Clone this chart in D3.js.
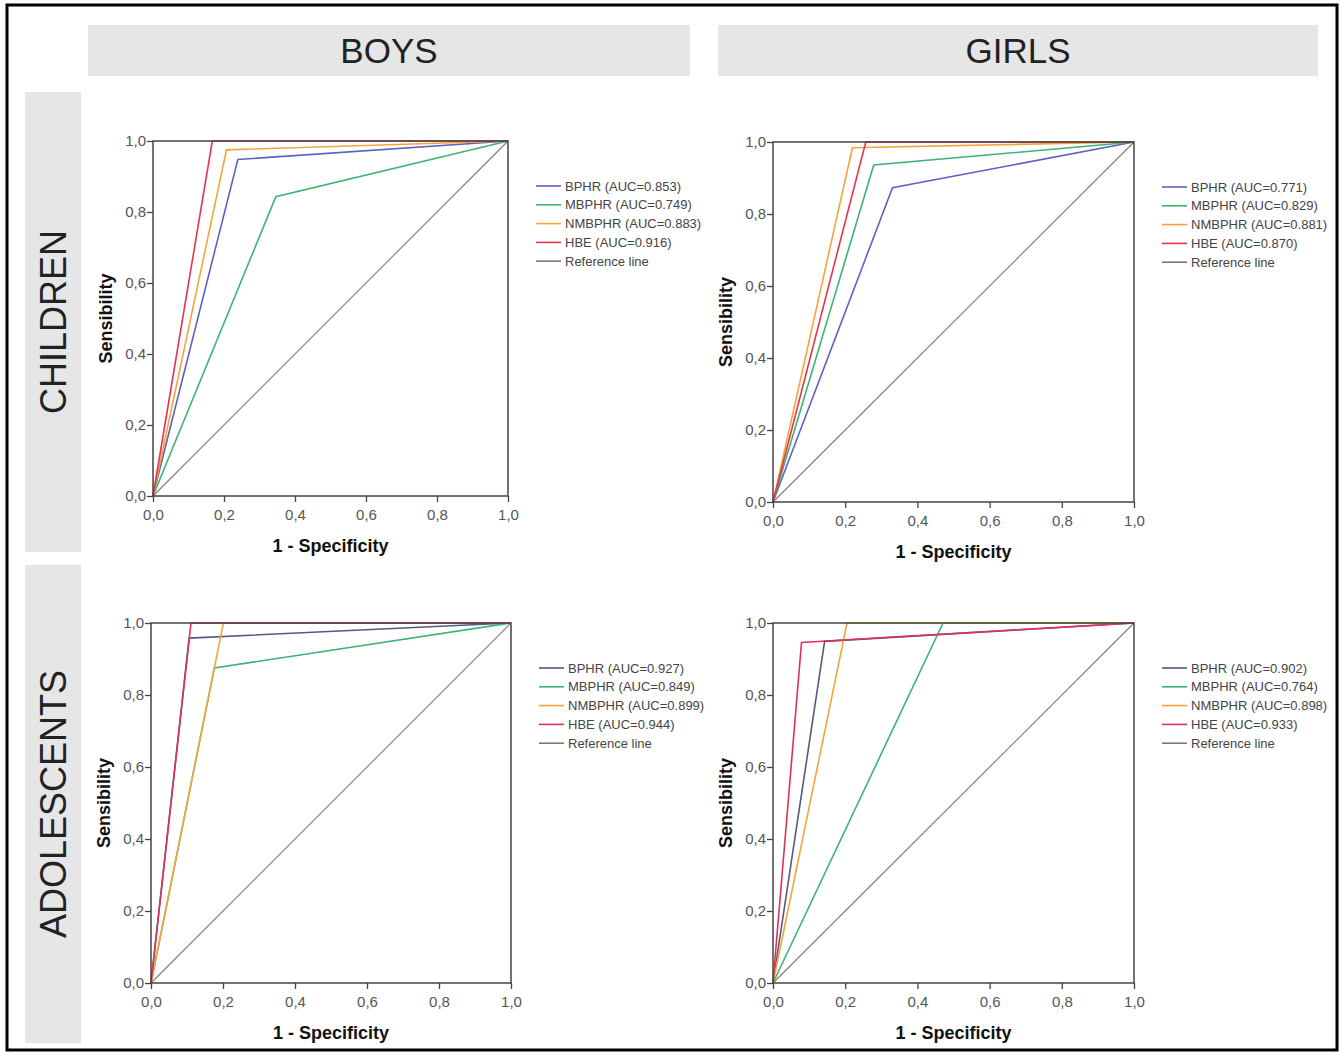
<!DOCTYPE html>
<html>
<head>
<meta charset="utf-8">
<script src="https://cdn.jsdelivr.net/npm/d3@7"></script>
<style>
	body{margin:0;background:#fff;}
	svg{display:block;font-family:"Liberation Sans",Arial,sans-serif;}
</style>
</head>
<body>
<svg id="roc" width="1340" height="1053"></svg>
<script>
// series shown in every panel
let series_names = ['BPHR','MBPHR','NMBPHR','HBE']

// boys / children
let auc_boys_children = [0.853,0.749,0.883,0.916]
let fpr_boys_children = [0.239,0.346,0.207,0.167]
let tpr_boys_children = [0.948,0.843,0.975,1.0]

// girls / children
let auc_girls_children = [0.771,0.829,0.881,0.870]
let fpr_girls_children = [0.331,0.279,0.220,0.257]
let tpr_girls_children = [0.873,0.936,0.984,1.0]

// boys / adolescents
let auc_boys_adol = [0.927,0.849,0.899,0.944]
let fpr_boys_adol = [0.106,0.176,0.201,0.111]
let tpr_boys_adol = [0.958,0.875,1.0,1.0]

// girls / adolescents
let auc_girls_adol = [0.902,0.764,0.898,0.933]
let fpr_girls_adol = [0.143,0.471,0.205,0.079]
let tpr_girls_adol = [0.949,1.0,1.0,0.946]

let tick_vals = [0,0.2,0.4,0.6,0.8,1.0]
let col_titles = ['BOYS','GIRLS']
let row_titles = ['CHILDREN','ADOLESCENTS']

let cols = ['#5b62c2','#3cb472','#f5a43c','#e8334c']
let cols_adol = ['#55587f','#3cb472','#f5a43c','#e0305a']
let ref_col = '#7a7a7a'

const comma = d3.formatLocale({decimal:',',thousands:'.',grouping:[3],currency:['','']}).format('.1f')

const svg = d3.select('#roc')

// outer frame
svg.append('rect')
	.attr('x',7).attr('y',5)
	.attr('width',1330).attr('height',1045)
	.attr('fill','none')
	.attr('stroke','#000')
	.attr('stroke-width',3)

// column headers
const head = [{x:88,w:602},{x:718,w:600}]
head.forEach((h,i)=>{
	svg.append('rect').attr('x',h.x).attr('y',25).attr('width',h.w).attr('height',51).attr('fill','#e6e6e6')
	svg.append('text')
		.attr('x',h.x + h.w/2).attr('y',63)
		.attr('text-anchor','middle')
		.attr('font-size',35)
		.attr('fill','#222')
		.text(col_titles[i])
})

// row headers
const rows = [{y:92,h:460},{y:565,h:478}]
rows.forEach((r,i)=>{
	svg.append('rect').attr('x',25).attr('y',r.y).attr('width',56).attr('height',r.h).attr('fill','#e6e6e6')
	svg.append('text')
		.attr('transform',`translate(66,${r.y + r.h/2}) rotate(-90)`)
		.attr('text-anchor','middle')
		.attr('font-size',36)
		.attr('fill','#222')
		.text(row_titles[i])
})

const panels = [
	{left:153,right:508,top:141,bottom:496,auc:auc_boys_children,fpr:fpr_boys_children,tpr:tpr_boys_children,cols:cols},
	{left:773,right:1134,top:142,bottom:502,auc:auc_girls_children,fpr:fpr_girls_children,tpr:tpr_girls_children,cols:cols},
	{left:151,right:511,top:623,bottom:983,auc:auc_boys_adol,fpr:fpr_boys_adol,tpr:tpr_boys_adol,cols:cols_adol},
	{left:773,right:1134,top:623,bottom:983,auc:auc_girls_adol,fpr:fpr_girls_adol,tpr:tpr_girls_adol,cols:cols_adol}
]

const draw_panel = (p)=>{
	const x = d3.scaleLinear().domain([0,1]).range([p.left,p.right])
	const y = d3.scaleLinear().domain([0,1]).range([p.bottom,p.top])
	const g = svg.append('g')

	const line = d3.line().x(d=>x(d[0])).y(d=>y(d[1]))

	// roc curves (one cut point each)
	series_names.forEach((s,i)=>{
		g.append('path')
			.attr('d',line([[0,0],[p.fpr[i],p.tpr[i]],[1,1]]))
			.attr('fill','none')
			.attr('stroke',p.cols[i])
			.attr('stroke-width',1.6)
	})
	// reference line
	g.append('path')
		.attr('d',line([[0,0],[1,1]]))
		.attr('fill','none')
		.attr('stroke',ref_col)
		.attr('stroke-width',1.1)

	// frame
	g.append('rect')
		.attr('x',p.left).attr('y',p.top)
		.attr('width',p.right-p.left).attr('height',p.bottom-p.top)
		.attr('fill','none')
		.attr('stroke','#444')
		.attr('stroke-width',1.5)

	const xa = g.append('g')
		.attr('transform',`translate(0,${p.bottom})`)
		.call(d3.axisBottom(x).tickValues(tick_vals).tickFormat(comma).tickSize(6).tickPadding(7))
	const ya = g.append('g')
		.attr('transform',`translate(${p.left},0)`)
		.call(d3.axisLeft(y).tickValues(tick_vals).tickFormat(comma).tickSize(6).tickPadding(1))
	;[xa,ya].forEach(a=>{
		a.select('.domain').remove()
		a.selectAll('line').attr('stroke','#444').attr('stroke-width',1.3)
		a.selectAll('text').attr('font-size',15).attr('fill','#555').attr('font-family','"Liberation Sans",Arial,sans-serif')
	})

	g.append('text')
		.attr('x',(p.left+p.right)/2).attr('y',p.bottom+56)
		.attr('text-anchor','middle')
		.attr('font-size',18).attr('font-weight','bold').attr('fill','#111')
		.text('1 - Specificity')
	g.append('text')
		.attr('transform',`translate(${p.left-41},${(p.top+p.bottom)/2}) rotate(-90)`)
		.attr('text-anchor','middle')
		.attr('font-size',18).attr('font-weight','bold').attr('fill','#111')
		.text('Sensibility')

	/*legend*/
	const leg_items = series_names.map((s,i)=>({label:`${s} (AUC=${p.auc[i].toFixed(3)})`,col:p.cols[i]}))
	leg_items.push({label:'Reference line',col:ref_col})
	const legendG = g.selectAll('.legend')
		.data(leg_items)
		.enter()
		.append('g')
		.attr('transform',(d,i)=>`translate(${p.right+28},${p.top+45+i*18.8})`)
	legendG.append('line')
		.attr('x1',0).attr('x2',25)
		.attr('stroke',d=>d.col)
		.attr('stroke-width',1.6)
	legendG.append('text')
		.attr('x',29).attr('y','0.35em')
		.attr('font-size',13).attr('fill','#444')
		.text(d=>d.label)
}

panels.forEach(draw_panel)
</script>
</body>
</html>
